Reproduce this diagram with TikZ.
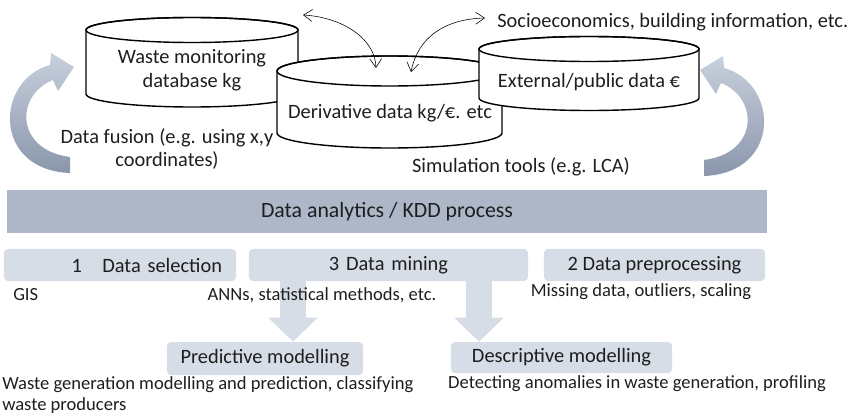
\documentclass[tikz,border=0pt]{standalone}
\usepackage{fontspec}
\setmainfont{Carlito}
\usetikzlibrary{arrows.meta}
\definecolor{barblue}{HTML}{ADB7C8}
\definecolor{boxblue}{HTML}{D7DDE6}
\definecolor{curltop}{HTML}{C8D0DD}
\definecolor{curlbot}{HTML}{8A96AB}
\definecolor{ink}{HTML}{1E1E1E}

\begin{document}
\begin{tikzpicture}[x=0.025cm,y=0.025cm,>={Straight Barb[length=0.22cm,width=0.3cm]},
  txt/.style={text=ink,font=\fontsize{14.5}{17}\selectfont,inner sep=0pt},
  note/.style={text=ink,font=\fontsize{13.2}{15.5}\selectfont,inner sep=0pt},
  stage/.style={txt,fill=boxblue,rounded corners=0.1cm,minimum height=0.8cm},
  fatarrow/.style={boxblue,line width=0.65cm,-{Triangle[width=1.2cm,length=0.6cm]}},
  drum/.style={fill=white,draw=black,line width=1pt},
  curlarrow/.pic={
    \shade[top color=curltop,bottom color=curlbot]
      (70,244) -- (70,260) .. controls (15,267) and (15,322) .. (53,337)
      -- (58,326) -- (74,350) -- (51,364) -- (50,352)
      .. controls (-5,337) and (-8,247) .. (70,244) -- cycle;}]
\useasboundingbox (0,0) rectangle (849,417);

% big curved arrows
\pic at (0,0) {curlarrow};
\pic[xscale=-1] at (774,-3) {curlarrow};

% data stores
\filldraw[drum] (86,387) -- (86,323) arc[start angle=180,end angle=360,x radius=106,y radius=13]
  -- (298,387) arc[start angle=0,end angle=180,x radius=106,y radius=12.5] -- cycle;
\draw[line width=1pt] (192,387) ellipse [x radius=106,y radius=12.5];
\filldraw[drum] (277,346) -- (277,284) arc[start angle=180,end angle=360,x radius=112.5,y radius=15]
  -- (502,346) arc[start angle=0,end angle=180,x radius=112.5,y radius=15] -- cycle;
\draw[line width=1pt] (389.5,346) ellipse [x radius=112.5,y radius=15];
\filldraw[drum] (479,368) -- (479,319) arc[start angle=180,end angle=360,x radius=110,y radius=12.5]
  -- (699,368) arc[start angle=0,end angle=180,x radius=110,y radius=12.5] -- cycle;
\draw[line width=1pt] (589,368) ellipse [x radius=110,y radius=12.5];

\node[txt,align=center] (waste) at (192,347) {Waste monitoring\\database kg};
\node[txt] (deriv) at (390,304) {Derivative data kg/€. etc};
\node[txt] (extern) at (589,335) {External/public data €};
\node[txt,anchor=west] (socio) at (497,395) {Socioeconomics, building information, etc.};
\node[txt,align=center] (fusion) at (167,268) {Data fusion (e.g. using x,y\\coordinates)};
\node[txt] (simul) at (521,250) {Simulation tools (e.g. LCA)};

% links between stores
\coordinate (wastetip) at (303,402);
\coordinate (derivtipa) at (376,349);
\coordinate (derivtipb) at (411,345);
\coordinate (sociotip) at (485,399);
\draw[<->,thin] (wastetip) .. controls (340,400) and (375,380) .. (derivtipa);
\draw[<->,thin] (derivtipb) .. controls (418,380) and (445,398) .. (sociotip);

% process
\node[txt,font=\fontsize{15.5}{18}\selectfont,fill=barblue,minimum width=19cm,minimum height=1.075cm] (kdd) at (387,205.5) {Data analytics / KDD process};
\node[stage,minimum width=5.8cm,text width=5.1cm,inner xsep=0.35cm,align=right] (select) at (120,152) {1\hspace{1em}Data selection};
\node[stage,minimum width=6.975cm,text width=6.975cm,align=center] (mining) at (388.5,152) {3 Data mining\hspace{0.35cm}};
\node[stage,minimum width=5.525cm] (prepro) at (654.5,152) {2 Data preprocessing};
\node[stage,minimum width=4.9cm,minimum height=0.825cm] (predict) at (265,58.5) {Predictive modelling};
\node[stage,minimum width=5.525cm,minimum height=0.775cm] (describe) at (561.5,59.5) {Descriptive modelling};

\coordinate (predx) at (293,0);
\coordinate (descx) at (479,0);
\draw[fatarrow] (mining.south -| predx) -- (predict.north -| predx);
\draw[fatarrow] (mining.south -| descx) -- (describe.north -| descx);

\node[note,anchor=west] (gis) at (13,122) {GIS};
\node[note] (anns) at (322,122) {ANNs, statistical methods, etc.};
\node[note] (missing) at (641,125) {Missing data, outliers, scaling};
\node[note,anchor=west,align=left] (wastegen) at (2,22) {Waste generation modelling and prediction, classifying\\waste producers};
\node[note] (detect) at (637,33) {Detecting anomalies in waste generation, profiling};
\end{tikzpicture}
\end{document}
